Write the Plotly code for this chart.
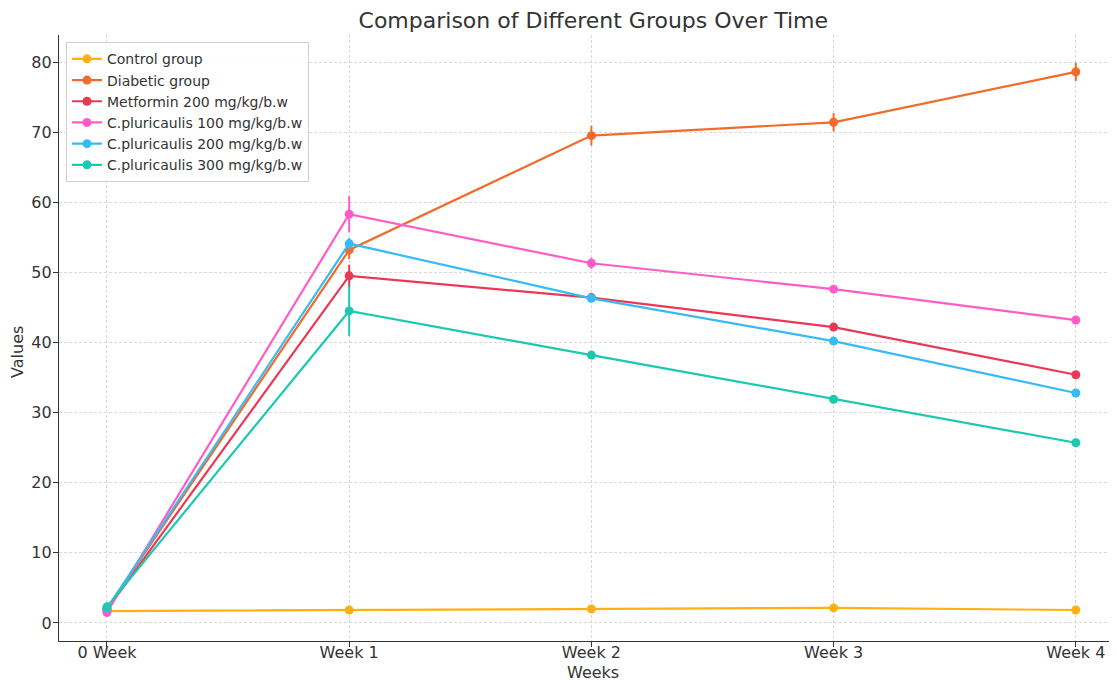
import plotly.graph_objects as go

weeks = ["0 Week", "Week 1", "Week 2", "Week 3", "Week 4"]

control = [1.7, 1.85, 2.0, 2.15, 1.85]
diabetic = [2.0, 53.2, 69.5, 71.4, 78.6]
metformin = [1.9, 49.5, 46.4, 42.2, 35.4]
cp100 = [1.5, 58.3, 51.3, 47.6, 43.2]
cp200 = [2.1, 54.1, 46.3, 40.2, 32.8]
cp300 = [2.3, 44.5, 38.2, 31.9, 25.7]

control_err = [0.2, 0.2, 0.2, 0.2, 0.2]
diabetic_err = [0.3, 1.3, 1.4, 1.3, 1.3]
metformin_err = [0.3, 1.6, 0.5, 0.5, 0.5]
cp100_err = [0.3, 2.6, 0.8, 0.5, 0.5]
cp200_err = [0.3, 0.8, 0.5, 0.5, 0.5]
cp300_err = [0.3, 3.6, 0.5, 0.5, 0.5]

names = ["Control group", "Diabetic group", "Metformin 200 mg/kg/b.w",
         "C.pluricaulis 100 mg/kg/b.w", "C.pluricaulis 200 mg/kg/b.w",
         "C.pluricaulis 300 mg/kg/b.w"]
series = [control, diabetic, metformin, cp100, cp200, cp300]
errors = [control_err, diabetic_err, metformin_err, cp100_err, cp200_err, cp300_err]
colors = ["#FFB013", "#F26B2A", "#EA3855", "#FF5CC8", "#36BBF5", "#1CC9B0"]

fig = go.Figure()
for name, vals, err, col in zip(names, series, errors, colors):
    fig.add_trace(go.Scatter(
        x=list(range(len(weeks))), y=vals, name=name, mode="lines+markers",
        line=dict(color=col, width=2.2),
        marker=dict(color=col, size=9),
        error_y=dict(type="data", array=err, visible=True, color=col,
                     thickness=2, width=0),
    ))

axis_common = dict(
    showline=True, linecolor="#333333", linewidth=1.3,
    ticks="outside", ticklen=5, tickcolor="#333333", tickwidth=1.2,
    showgrid=True, gridcolor="#d9d9d9", griddash="3px,2px", gridwidth=1,
    zeroline=False, automargin=False,
    tickfont=dict(family="DejaVu Sans", size=16, color="#333333"),
)

label_font = dict(family="DejaVu Sans", size=16, color="#333333")

fig.update_layout(
    width=1109, height=676,
    paper_bgcolor="white", plot_bgcolor="white",
    margin=dict(l=51, r=0, t=27, b=43, autoexpand=False),
    title=dict(text="Comparison of Different Groups Over Time",
               x=0.505, xanchor="center", xref="paper", y=0.982, yanchor="middle",
               font=dict(family="DejaVu Sans", size=22, color="#333333")),
    xaxis=dict(range=[-0.198, 4.17], tickmode="array",
               tickvals=list(range(len(weeks))), ticktext=weeks,
               ticklabelstandoff=-8,
               **axis_common),
    yaxis=dict(range=[-2.57, 83.85], tickmode="array",
               tickvals=[0, 10, 20, 30, 40, 50, 60, 70, 80],
               ticklabelstandoff=-2,
               **axis_common),
    legend=dict(x=0.0066, y=0.988, xanchor="left", yanchor="top",
                bgcolor="rgba(255,255,255,0.85)", bordercolor="#d0d0d0", borderwidth=1,
                font=dict(family="DejaVu Sans", size=14, color="#333333"),
                tracegroupgap=0, itemwidth=30),
    showlegend=True,
    annotations=[
        dict(text="Weeks", xref="paper", yref="paper", x=0.505, y=-0.0512,
             xanchor="center", yanchor="middle", showarrow=False, font=label_font),
        dict(text="Values", xref="paper", yref="paper", x=-0.0388, y=0.477,
             xanchor="center", yanchor="middle", textangle=-90, showarrow=False,
             font=label_font),
    ],
)

fig.write_html("out.html")
